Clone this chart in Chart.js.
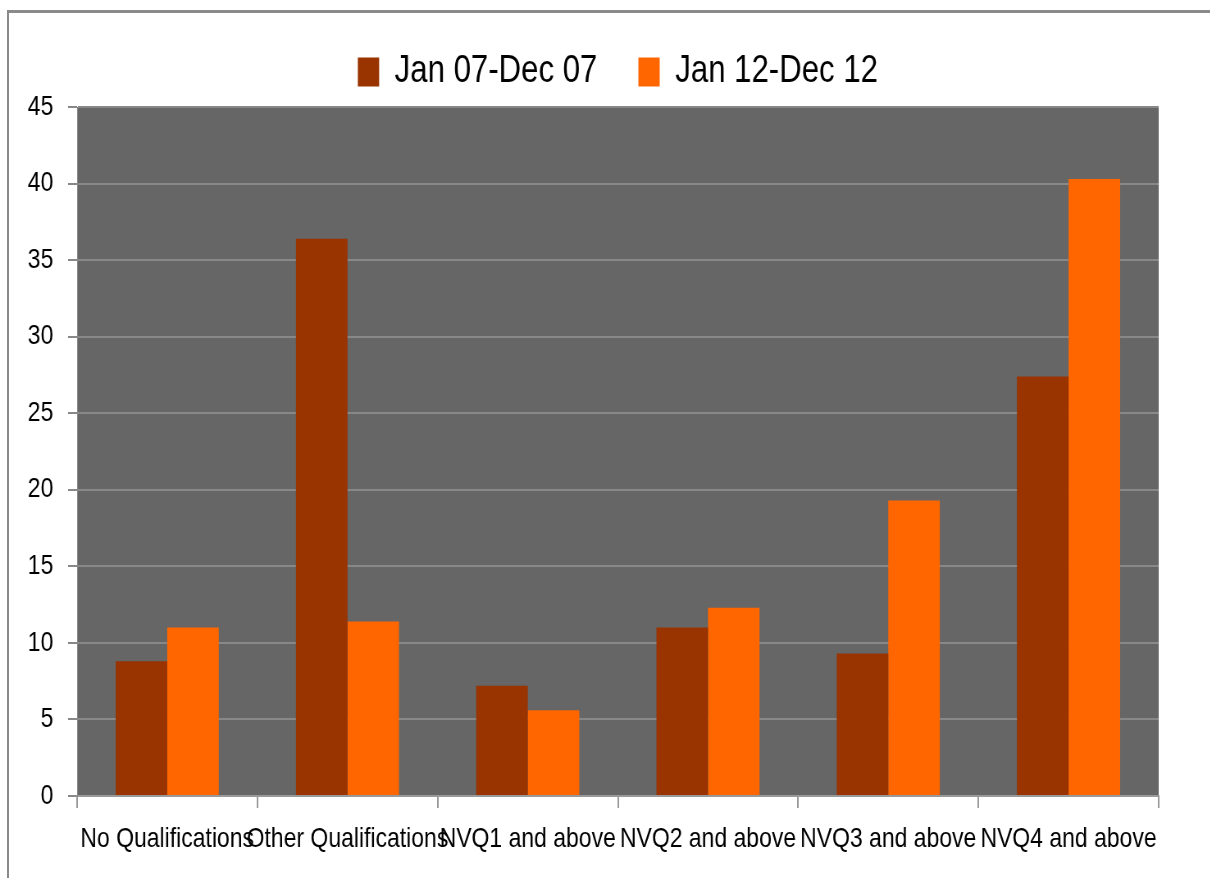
<!DOCTYPE html>
<html>
<head>
<meta charset="utf-8">
<script src="https://cdn.jsdelivr.net/npm/chart.js@4.4.1/dist/chart.umd.min.js"></script>
<style>
  html, body { margin: 0; padding: 0; background: #ffffff; overflow: hidden; }
  #wrap { position: relative; width: 1210px; height: 878px; overflow: hidden; }
  #frame { position: absolute; left: 7px; top: 10px; right: -4px; bottom: -4px;
           border-top: 3px solid #8a8a8a; border-left: 2px solid #8a8a8a; }
  /* the chart is drawn wide and narrowed horizontally for a condensed look */
  canvas { position: absolute; left: 0; top: 0; transform: scaleX(0.82); transform-origin: 0 0; }
</style>
</head>
<body>
<div id="wrap">
  <div id="frame"></div>
  <canvas id="chart" width="1476" height="878"></canvas>
</div>
<script>
// Qualification levels shown along the x axis
const categories = [
  'No Qualifications',
  'Other Qualifications',
  'NVQ1 and above',
  'NVQ2 and above',
  'NVQ3 and above',
  'NVQ4 and above'
];

// Series names
const seriesNames = ['Jan 07-Dec 07', 'Jan 12-Dec 12'];

// Percentages for each period
const values2007 = [8.8, 36.4, 7.2, 11.0, 9.3, 27.4];
const values2012 = [11.0, 11.4, 5.6, 12.3, 19.3, 40.3];

// Y axis range
const yMin = 0;
const yMax = 45;
const yStep = 5;

const FONT = '"Liberation Sans", Arial, sans-serif';

// Paints the dark grey plotting area behind the bars
const plotBackground = {
  id: 'plotBackground',
  beforeDraw(chart) {
    const { ctx, chartArea } = chart;
    ctx.save();
    ctx.fillStyle = '#666666';
    ctx.fillRect(chartArea.left, chartArea.top,
                 chartArea.right - chartArea.left, chartArea.bottom - chartArea.top);
    ctx.restore();
  }
};

new Chart(document.getElementById('chart'), {
  type: 'bar',
  data: {
    labels: categories,
    datasets: [
      { label: seriesNames[0], data: values2007, backgroundColor: '#993300', borderWidth: 0 },
      { label: seriesNames[1], data: values2012, backgroundColor: '#ff6600', borderWidth: 0 }
    ]
  },
  options: {
    responsive: false,
    animation: false,
    devicePixelRatio: 1,
    categoryPercentage: 0.572,
    barPercentage: 1.0,
    layout: { padding: { left: 0, right: 63, top: 3, bottom: 0 } },
    plugins: {
      tooltip: { enabled: false },
      legend: {
        position: 'top',
        fullSize: false,
        weight: 1000,
        labels: {
          boxWidth: 26,
          boxHeight: 29,
          padding: 50,
          color: '#000000',
          font: { family: FONT, size: 38 }
        }
      },
      // thin empty band between the legend and the plot
      title: {
        display: true,
        text: '',
        position: 'top',
        fullSize: false,
        weight: 500,
        padding: { top: 0, bottom: 5 },
        font: { size: 1, lineHeight: 1 }
      }
    },
    scales: {
      x: {
        grid: { display: true, drawOnChartArea: false, drawTicks: true, tickLength: 12, color: '#999999', lineWidth: 2, offset: true },
        border: { display: true, color: '#999999', width: 2 },
        ticks: {
          autoSkip: false, maxRotation: 0, minRotation: 0,
          color: '#000000', padding: 14,
          font: { family: FONT, size: 28 }
        },
        afterFit(scale) { scale.height = 82; }
      },
      y: {
        min: yMin, max: yMax,
        grid: { color: '#888888', lineWidth: 2, tickLength: 11, drawTicks: true },
        border: { display: true, color: '#888888', width: 1 },
        ticks: {
          stepSize: yStep,
          color: '#000000', padding: 18,
          font: { family: FONT, size: 28 }
        },
        afterFit(scale) { scale.width = 94; }
      }
    }
  },
  plugins: [plotBackground]
});
</script>
</body>
</html>
